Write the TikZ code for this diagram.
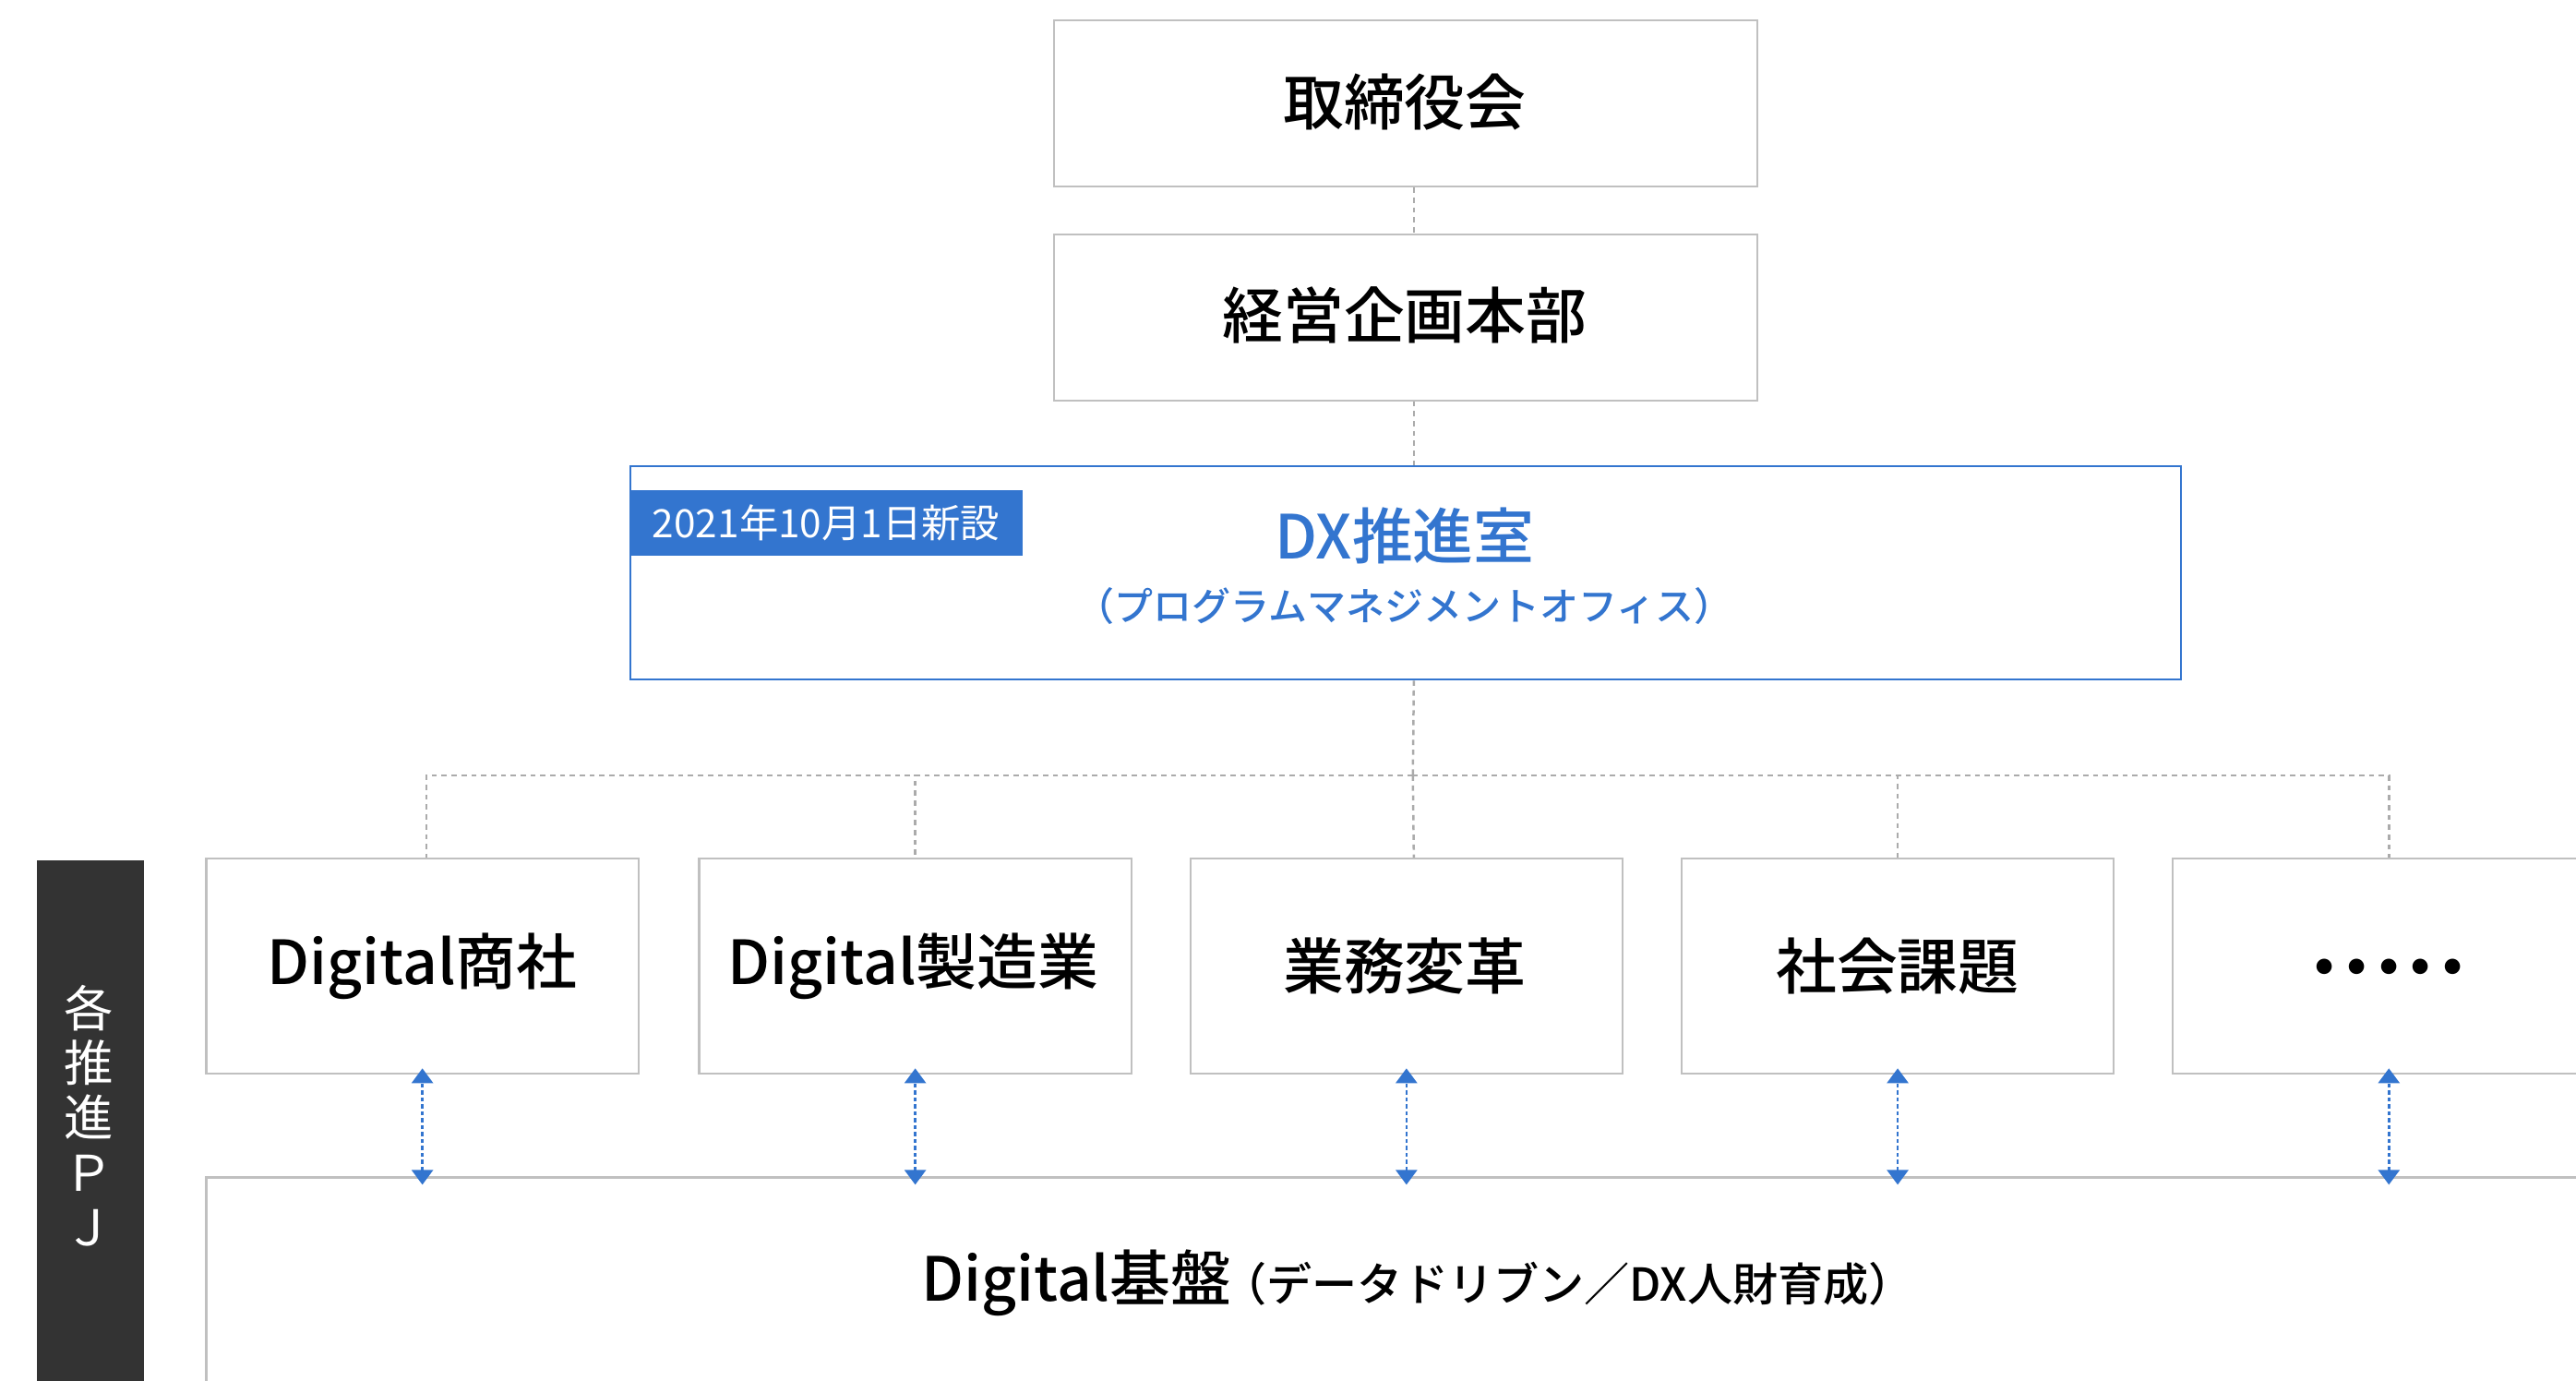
\documentclass[tikz,border=0pt]{standalone}
\usepackage{fontspec}
\setmainfont{Noto Sans CJK JP Medium}
\newfontfamily\regfont{Noto Sans CJK JP}
\usetikzlibrary{arrows.meta}
\definecolor{dxblue}{HTML}{3375CF}
\definecolor{boxgray}{HTML}{C0C0C0}
\definecolor{linegray}{HTML}{ABABAB}
\definecolor{bardark}{HTML}{333333}
\begin{document}
\begin{tikzpicture}[x=0.5pt,y=-0.5pt,
  box/.style={draw=boxgray, line width=0.6pt, fill=white, anchor=north west, inner sep=0pt},
  bigtxt/.style={font=\fontsize{18.5}{22}\selectfont, text=black},
  conn/.style={draw=linegray, line width=0.7pt, dash pattern=on 1.6pt off 1.4pt},
  biarrow/.style={draw=dxblue, line width=0.7pt, dash pattern=on 1.2pt off 0.9pt, {Triangle[width=6.5pt,length=4.5pt]}-{Triangle[width=6.5pt,length=4.5pt]}, shorten <=-2.5pt, shorten >=-2pt},
  ]
\useasboundingbox (0,0) rectangle (1568,840);
\clip (0,0) rectangle (1568,840);
\fill[white] (0,0) rectangle (1568,840);

% top boxes
\node[box, minimum width=214pt, minimum height=50.5pt] (board) at (641,12) {};
\node[bigtxt] (boardtxt) at (855,62) {取締役会};
\node[box, minimum width=214pt, minimum height=50.5pt] (plan) at (641,142) {};
\node[bigtxt] (plantxt) at (855,192) {経営企画本部};

% DX office
\node[box, draw=dxblue, minimum width=472pt, minimum height=65pt] (dx) at (383,283) {};
\node[fill=dxblue, text=white, anchor=north west, inner sep=0pt, minimum width=119.5pt, minimum height=20pt, font=\regfont\fontsize{11.9}{13}\selectfont] (tag) at (383,298) {2021年10月1日新設};
\node[text=dxblue, font=\fontsize{18.5}{21}\selectfont] (dxtitle) at (855,326) {DX推進室};
\node[text=dxblue, font=\fontsize{11.8}{13}\selectfont] (dxsub) at (855,369) {（プログラムマネジメントオフィス）};

% project boxes
\node[box, minimum width=131.5pt, minimum height=65.5pt] (b1) at (125,522) {};
\node[box, minimum width=131.5pt, minimum height=65.5pt] (b2) at (425,522) {};
\node[box, minimum width=131.5pt, minimum height=65.5pt] (b3) at (724,522) {};
\node[box, minimum width=131.5pt, minimum height=65.5pt] (b4) at (1023,522) {};
\node[box, minimum width=131.5pt, minimum height=65.5pt] (b5) at (1322,522) {};
\node[bigtxt] (t1) at (257,588) {Digital商社};
\node[bigtxt] (t2) at (556,588) {Digital製造業};
\node[bigtxt] (t3) at (855,588) {業務変革};
\node[bigtxt] (t4) at (1155,588) {社会課題};
\node[font=\fontsize{26}{28}\selectfont, text=black, anchor=base] (t5) at (1454,608) {･\kern-3.3pt･\kern-3.3pt･\kern-3.3pt･\kern-3.3pt･};

% base box
\node[box, minimum width=740pt, minimum height=100pt] (base) at (125,716) {};
\node[text=black] (basetxt) at (863,781) {{\fontsize{18.5}{22}\selectfont Digital基盤}\kern-3pt{\fontsize{13.8}{15}\selectfont （データドリブン／DX人財育成）}};

% left bar
\node[fill=bardark, anchor=north west, inner sep=0pt, minimum width=32.5pt, minimum height=170pt] (bar) at (22,523) {};
\node[text=white, align=center, font=\regfont\fontsize{15}{16.6}\selectfont, inner sep=0pt] (bartxt) at (54,679) {各\\推\\進\\Ｐ\\Ｊ};

% connectors
\draw[conn] ([xshift=2.5pt]board.south) -- ([xshift=2.5pt]plan.north);
\draw[conn] ([xshift=2.5pt]plan.south) -- ([xshift=2.5pt]dx.north);
\coordinate (bus) at (860,472);
\draw[conn] ([xshift=2.5pt]dx.south) -- (bus);
\draw[conn] (bus) -| ([xshift=1.25pt]b1.north);
\draw[conn] (bus) -| (b2.north);
\draw[conn] (bus) -- ([xshift=2.25pt]b3.north);
\draw[conn] (bus) -| (b4.north);
\draw[conn] (bus) -| (b5.north);

% arrows
\foreach \b in {b1,b2,b3,b4,b5}{
  \draw[biarrow] (\b.south |- base.north) -- (\b.south);
}
\end{tikzpicture}
\end{document}
